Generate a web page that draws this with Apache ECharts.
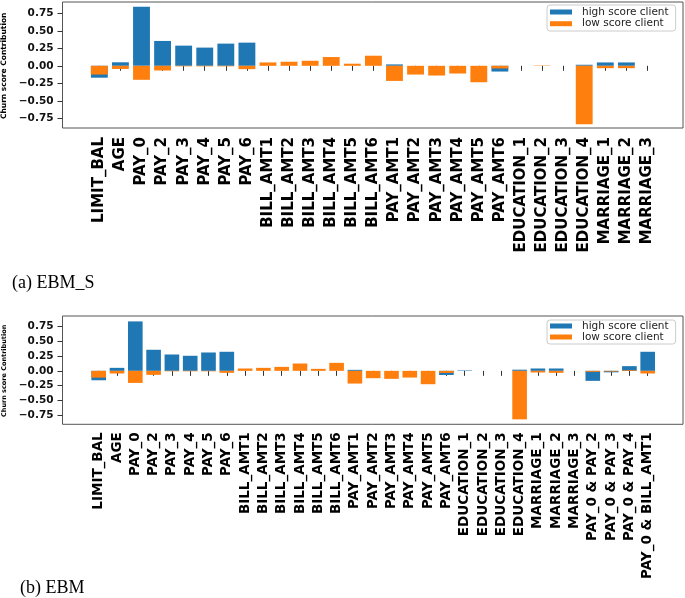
<!DOCTYPE html>
<html>
<head>
<meta charset="utf-8">
<script src="https://cdn.jsdelivr.net/npm/echarts@6/dist/echarts.min.js"></script>
<style>
html,body{margin:0;padding:0;background:#fff;}
#chart{width:685px;height:598px;}
</style>
</head>
<body>
<div id="chart"></div>
<script>
// ---- data ----
const catsA = ['LIMIT_BAL','AGE','PAY_0','PAY_2','PAY_3','PAY_4','PAY_5','PAY_6',
  'BILL_AMT1','BILL_AMT2','BILL_AMT3','BILL_AMT4','BILL_AMT5','BILL_AMT6',
  'PAY_AMT1','PAY_AMT2','PAY_AMT3','PAY_AMT4','PAY_AMT5','PAY_AMT6',
  'EDUCATION_1','EDUCATION_2','EDUCATION_3','EDUCATION_4',
  'MARRIAGE_1','MARRIAGE_2','MARRIAGE_3'];
const highA = [-0.17, 0.05, 0.845, 0.355, 0.288, 0.26, 0.317, 0.331,
  0, 0, 0, 0, 0, 0,
  0.02, 0, 0, 0, 0, -0.082,
  0, 0, 0, 0.015,
  0.048, 0.048, 0];
const lowA = [-0.125, -0.045, -0.2, -0.067, -0.008, -0.008, -0.008, -0.048,
  0.048, 0.058, 0.072, 0.125, 0.03, 0.144,
  -0.216, -0.125, -0.139, -0.11, -0.235, -0.038,
  0, 0.005, 0, -0.835,
  -0.034, -0.034, 0];

const catsB = ['LIMIT_BAL','AGE','PAY_0','PAY_2','PAY_3','PAY_4','PAY_5','PAY_6',
  'BILL_AMT1','BILL_AMT2','BILL_AMT3','BILL_AMT4','BILL_AMT5','BILL_AMT6',
  'PAY_AMT1','PAY_AMT2','PAY_AMT3','PAY_AMT4','PAY_AMT5','PAY_AMT6',
  'EDUCATION_1','EDUCATION_2','EDUCATION_3','EDUCATION_4',
  'MARRIAGE_1','MARRIAGE_2','MARRIAGE_3',
  'PAY_0 & PAY_2','PAY_0 & PAY_3','PAY_0 & PAY_4','PAY_0 & BILL_AMT1'];
const highB = [-0.16, 0.051, 0.84, 0.358, 0.278, 0.256, 0.312, 0.324,
  0, 0, 0, 0, 0, 0,
  0.017, 0, 0, 0, 0, -0.07,
  0.008, 0, 0, 0.02,
  0.04, 0.04, 0,
  -0.17, -0.025, 0.08, 0.324];
const lowB = [-0.115, -0.045, -0.205, -0.068, -0.008, -0.008, -0.008, -0.034,
  0.04, 0.051, 0.068, 0.125, 0.034, 0.136,
  -0.216, -0.125, -0.136, -0.114, -0.227, -0.035,
  0, 0, 0, -0.824,
  -0.028, -0.034, 0,
  -0.017, -0.012, 0.012, -0.045];

const seriesNames = ['high score client', 'low score client'];
const captions = ['(a) EBM_S', '(b) EBM'];
const yTitle = 'Churn score Contribution';

// ---- styles ----
const BLUE = '#1f77b4', ORANGE = '#ff7f0e';
const fmt = v => (v < 0 ? '\u2212' : '') + Math.abs(v).toFixed(2);

function xCat(gridIndex, data, offset, fontSize, margin) {
  return {
    gridIndex, type: 'category', data, offset,
    axisLine: {show: false},
    axisTick: {show: true, alignWithLabel: true, interval: 0, length: 5, lineStyle: {color: '#333'}},
    axisLabel: {interval: 0, rotate: 90, margin, fontSize, fontWeight: 'bold', color: '#000', fontFamily: 'DejaVu Sans', hideOverlap: false},
    splitLine: {show: false}
  };
}
function yVal(gridIndex, offset, nameSize, nameGap) {
  return {
    gridIndex, type: 'value', min: -0.75, max: 0.75, interval: 0.25, offset,
    axisLine: {show: false},
    axisTick: {show: true, length: 5, lineStyle: {color: '#333'}},
    splitLine: {show: false},
    axisLabel: {margin: 9, fontSize: 10.5, fontWeight: 'bold', color: '#111', fontFamily: 'DejaVu Sans', formatter: fmt},
    name: yTitle, nameLocation: 'middle', nameRotate: 90, nameGap,
    nameTextStyle: {fontSize: nameSize, fontWeight: 'bold', color: '#000', fontFamily: 'DejaVu Sans'}
  };
}
function bar(name, data, color, axisIndex) {
  return {
    name, type: 'bar', data, xAxisIndex: axisIndex, yAxisIndex: axisIndex,
    barWidth: '80%', barGap: '-100%', clip: false,
    itemStyle: {color}
  };
}
function legend(top, padding, lineHeight, itemGap) {
  return {
    data: seriesNames, orient: 'vertical', left: 547, top,
    padding, itemGap, itemWidth: 22, itemHeight: 5, icon: 'rect',
    borderColor: '#cccccc', borderWidth: 1, borderRadius: 3,
    backgroundColor: 'rgba(255,255,255,0.8)',
    selectedMode: false,
    textStyle: {fontSize: 10.5, color: '#222', fontFamily: 'DejaVu Sans', lineHeight, padding: [0, 0, 0, 5]}
  };
}
function grid(left, top, width, height, frame) {
  const g = {left, top, width, height, containLabel: false, outerBoundsMode: 'none'};
  if (frame) { g.show = true; g.borderColor = '#555'; g.borderWidth = 1; }
  return g;
}

const chart = echarts.init(document.getElementById('chart'), null, {renderer: 'canvas'});
chart.setOption({
  animation: false,
  backgroundColor: '#fff',
  title: [
    {text: captions[0], left: 12, top: 274, textStyle: {fontFamily: 'Liberation Serif', fontSize: 18, fontWeight: 'normal', color: '#000'}, padding: 0},
    {text: captions[1], left: 20, top: 579, textStyle: {fontFamily: 'Liberation Serif', fontSize: 18, fontWeight: 'normal', color: '#000'}, padding: 0}
  ],
  legend: [
    legend(5, [1.5, 7, 1.8, 3], 11, 0.7),
    legend(320, [0.5, 7, 1.5, 3], 10, 0)
  ],
  grid: [
    grid(62.5, 2, 620.5, 126, true),
    grid(88.8, 13.3, 569.2, 105, false),
    grid(62.5, 316, 620.5, 108.3, true),
    grid(89.55, 326.7, 567.3, 88.3, false)
  ],
  xAxis: [
    {gridIndex: 0, type: 'value', show: false},
    xCat(1, catsA, 9.7, 15, 9),
    {gridIndex: 2, type: 'value', show: false},
    xCat(3, catsB, 9.3, 13.5, 8)
  ],
  yAxis: [
    {gridIndex: 0, type: 'value', show: false},
    yVal(1, 26.3, 7.5, 51),
    {gridIndex: 2, type: 'value', show: false},
    yVal(3, 27.05, 6.5, 52)
  ],
  series: [
    bar(seriesNames[0], highA, BLUE, 1),
    bar(seriesNames[1], lowA, ORANGE, 1),
    bar(seriesNames[0], highB, BLUE, 3),
    bar(seriesNames[1], lowB, ORANGE, 3)
  ]
});
</script>
</body>
</html>
